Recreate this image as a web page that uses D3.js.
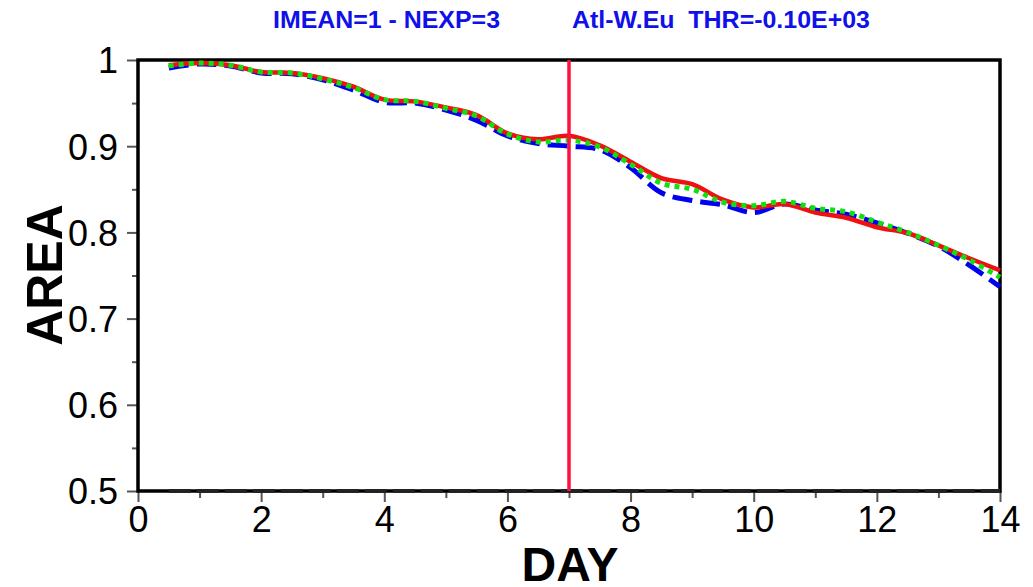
<!DOCTYPE html>
<html>
  <head>
    <meta charset="UTF-8" />
    <style>
      body { margin: 0; background: #fff; }
      text { font-family: "Liberation Sans", Arial, sans-serif; }
    </style>
  </head>
  <body>
    <svg></svg>
    <script src="https://d3js.org/d3.v7.min.js"></script>
    <script>
      let width = 1033,
        height = 587;

      // data (day, area)
      var days = [0.5, 1, 1.5, 2, 2.5, 3, 3.5, 4, 4.5, 5, 5.5, 6, 6.5, 7, 7.5, 8, 8.5, 9, 9.5, 10, 10.5, 11, 11.5, 12, 12.5, 13, 13.5, 14];
      var redSeries = [0.994, 0.9965, 0.994, 0.986, 0.985, 0.979, 0.969, 0.954, 0.952, 0.945, 0.936, 0.915, 0.908, 0.912, 0.901, 0.882, 0.863, 0.856, 0.838, 0.829, 0.833, 0.823, 0.817, 0.806, 0.799, 0.785, 0.770, 0.756];
      var greenSeries = [0.993, 0.9965, 0.994, 0.986, 0.985, 0.978, 0.968, 0.954, 0.952, 0.944, 0.935, 0.914, 0.905, 0.907, 0.899, 0.879, 0.857, 0.850, 0.835, 0.831, 0.836, 0.828, 0.824, 0.812, 0.800, 0.785, 0.768, 0.748];
      var blueSeries = [0.9907, 0.9954, 0.993, 0.985, 0.984, 0.977, 0.965, 0.951, 0.950, 0.942, 0.930, 0.912, 0.903, 0.900, 0.896, 0.875, 0.846, 0.837, 0.832, 0.823, 0.833, 0.826, 0.821, 0.811, 0.799, 0.784, 0.762, 0.737];
      var xTicks = [0, 2, 4, 6, 8, 10, 12, 14];
      var yTicks = [0.5, 0.6, 0.7, 0.8, 0.9, 1];
      var markDay = 7;
      var title1 = "IMEAN=1 - NEXP=3";
      var title2 = "Atl-W.Eu  THR=-0.10E+03";

      let svg = d3.select("svg").attr("width", width).attr("height", height);

      var x = d3.scaleLinear().domain([0, 14]).range([138, 1000]);
      var y = d3.scaleLinear().domain([0.5, 1]).range([491, 60]);

      // titles
      svg.append("text").attr("x", 273).attr("y", 28)
        .attr("font-size", 23).attr("font-weight", "bold").attr("fill", "#1010e8")
        .attr("textLength", 227).attr("lengthAdjust", "spacingAndGlyphs")
        .text(title1);
      svg.append("text").attr("x", 572).attr("y", 28)
        .attr("font-size", 23).attr("font-weight", "bold").attr("fill", "#1010e8")
        .attr("textLength", 298).attr("lengthAdjust", "spacingAndGlyphs")
        .attr("xml:space", "preserve")
        .text(title2);

      // y axis ticks (major + minor)
      var yAxis = d3.axisLeft(y).tickValues(yTicks).tickSize(11).tickFormat(d3.format("")).tickPadding(9);
      var gy = svg.append("g").attr("transform", "translate(" + x(0) + ",0)").call(yAxis);
      gy.select(".domain").remove();
      gy.selectAll("line").attr("stroke", "#555").attr("stroke-width", 2);
      gy.selectAll("text").attr("font-size", 36).attr("fill", "#000").attr("dy", "0.36em");

      var gym = svg.append("g").attr("transform", "translate(" + x(0) + ",0)")
        .call(d3.axisLeft(y).tickValues([0.55, 0.65, 0.75, 0.85, 0.95]).tickSize(6).tickFormat(""));
      gym.select(".domain").remove();
      gym.selectAll("line").attr("stroke", "#555").attr("stroke-width", 2);

      // x axis ticks
      var xAxis = d3.axisBottom(x).tickValues(xTicks).tickSize(11).tickPadding(4);
      var gx = svg.append("g").attr("transform", "translate(0," + y(0.5) + ")").call(xAxis);
      gx.select(".domain").remove();
      gx.selectAll("line").attr("stroke", "#555").attr("stroke-width", 2);
      gx.selectAll("text").attr("font-size", 36).attr("fill", "#000");

      var gxm = svg.append("g").attr("transform", "translate(0," + y(0.5) + ")")
        .call(d3.axisBottom(x).tickValues([1, 3, 5, 7, 9, 11, 13]).tickSize(7).tickFormat(""));
      gxm.select(".domain").remove();
      gxm.selectAll("line").attr("stroke", "#555").attr("stroke-width", 2);

      // axis titles
      svg.append("text").attr("x", 570).attr("y", 581).attr("text-anchor", "middle")
        .attr("font-size", 48).attr("font-weight", "bold").text("DAY");
      svg.append("text").attr("transform", "translate(62,275) rotate(-90)")
        .attr("text-anchor", "middle").attr("font-size", 50).attr("font-weight", "bold").text("AREA");

      // frame
      svg.append("rect").attr("x", x(0)).attr("y", y(1))
        .attr("width", x(14) - x(0)).attr("height", y(0.5) - y(1))
        .attr("fill", "none").attr("stroke", "#000").attr("stroke-width", 3.5);

      // baseline dashed
      svg.append("line").attr("x1", x(0.5)).attr("x2", x(14)).attr("y1", y(0.5)).attr("y2", y(0.5))
        .attr("stroke", "#222").attr("stroke-width", 4).attr("stroke-dasharray", "22,6");

      var line = d3.line()
        .x((d, i) => x(days[i]))
        .y((d) => y(d))
        .curve(d3.curveCatmullRom);

      svg.append("path").datum(blueSeries).attr("d", line)
        .attr("fill", "none").attr("stroke", "#0000f0").attr("stroke-width", 5)
        .attr("stroke-dasharray", "20,8");
      svg.append("path").datum(redSeries).attr("d", line)
        .attr("fill", "none").attr("stroke", "#f01010").attr("stroke-width", 4.5);
      svg.append("path").datum(greenSeries).attr("d", line)
        .attr("fill", "none").attr("stroke", "#10e010").attr("stroke-width", 5)
        .attr("stroke-dasharray", "5,5");

      // vertical marker
      svg.append("line").attr("x1", x(markDay)).attr("x2", x(markDay))
        .attr("y1", y(1)).attr("y2", y(0.5))
        .attr("stroke", "#ff1040").attr("stroke-width", 3.5);
    </script>
  </body>
</html>
